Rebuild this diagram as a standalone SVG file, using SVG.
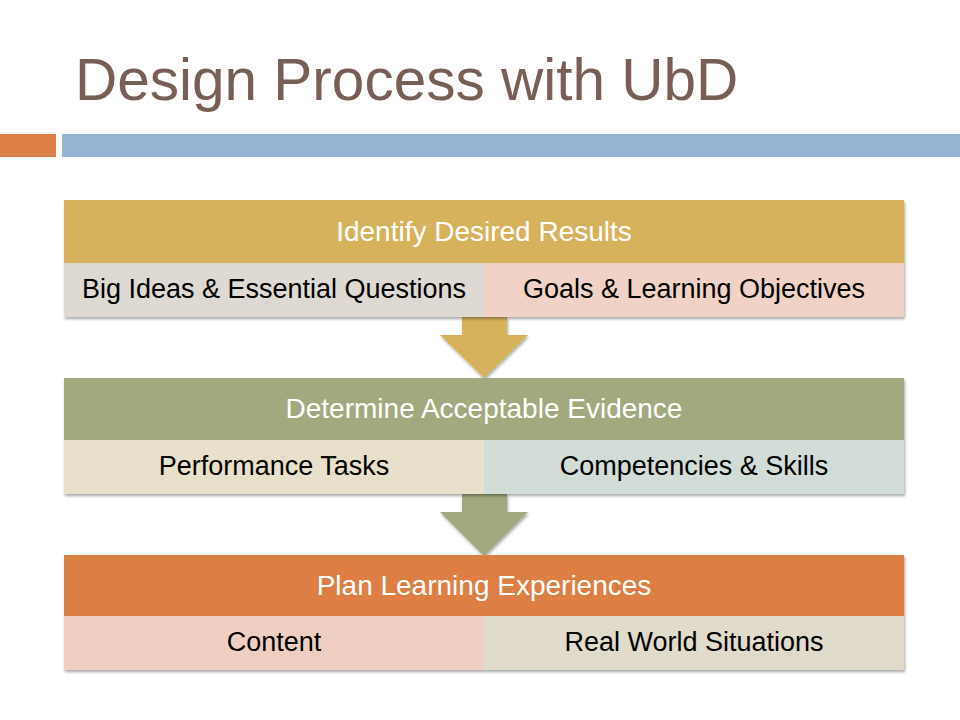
<svg xmlns="http://www.w3.org/2000/svg" width="960" height="720" viewBox="0 0 960 720">
  <defs>
    <filter id="sh" x="-5%" y="-10%" width="110%" height="130%">
      <feDropShadow dx="1" dy="2" stdDeviation="1.5" flood-color="#000" flood-opacity="0.35"/>
    </filter>
  </defs>
  <style>
    .title { font-family: "Liberation Sans", Arial, sans-serif; font-size: 58.5px; fill: #775F55; }
    .hdr { font-family: "Liberation Sans", Arial, sans-serif; font-size: 28px; fill: #FFFFFF; text-anchor: middle; }
    .sub { font-family: "Liberation Sans", Arial, sans-serif; font-size: 27px; fill: #000000; text-anchor: middle; }
  </style>
  <rect x="0" y="0" width="960" height="720" fill="#FFFFFF"/>
  <text class="title" x="75" y="100">Design Process with UbD</text>
  <rect x="0" y="134" width="56" height="23" fill="#DD8047"/>
  <rect x="62" y="134" width="898" height="23" fill="#94B6D2"/>

  <g id="connectors">
    <polygon id="arrow1" points="462,317 507,317 507,335 528,335 484,378 440,335 462,335" fill="#D6B25C" filter="url(#sh)"/>
    <polygon id="arrow2" points="462,494 507,494 507,512 528,512 484,556 440,512 462,512" fill="#A2A97E" filter="url(#sh)"/>
  </g>

  <g id="stage1">
    <g filter="url(#sh)">
      <rect x="64" y="200" width="840" height="63" fill="#D6B25C"/>
      <rect x="64" y="263" width="420" height="54" fill="#DEDAD3"/>
      <rect x="484" y="263" width="420" height="54" fill="#F0D3C6"/>
    </g>
    <text class="hdr" x="484" y="241">Identify Desired Results</text>
    <text class="sub" x="274" y="298">Big Ideas &amp; Essential Questions</text>
    <text class="sub" x="694" y="298">Goals &amp; Learning Objectives</text>
  </g>

  <g id="stage2">
    <g filter="url(#sh)">
      <rect x="64" y="378" width="840" height="62" fill="#A2A97E"/>
      <rect x="64" y="440" width="420" height="54" fill="#E8E0CB"/>
      <rect x="484" y="440" width="420" height="54" fill="#D3DDD7"/>
    </g>
    <text class="hdr" x="484" y="418">Determine Acceptable Evidence</text>
    <text class="sub" x="274" y="475">Performance Tasks</text>
    <text class="sub" x="694" y="475">Competencies &amp; Skills</text>
  </g>

  <g id="stage3">
    <g filter="url(#sh)">
      <rect x="64" y="555" width="840" height="61" fill="#DD7E45"/>
      <rect x="64" y="616" width="420" height="54" fill="#F0CFC3"/>
      <rect x="484" y="616" width="420" height="54" fill="#E1DBCC"/>
    </g>
    <text class="hdr" x="484" y="595">Plan Learning Experiences</text>
    <text class="sub" x="274" y="651">Content</text>
    <text class="sub" x="694" y="651">Real World Situations</text>
  </g>
</svg>
